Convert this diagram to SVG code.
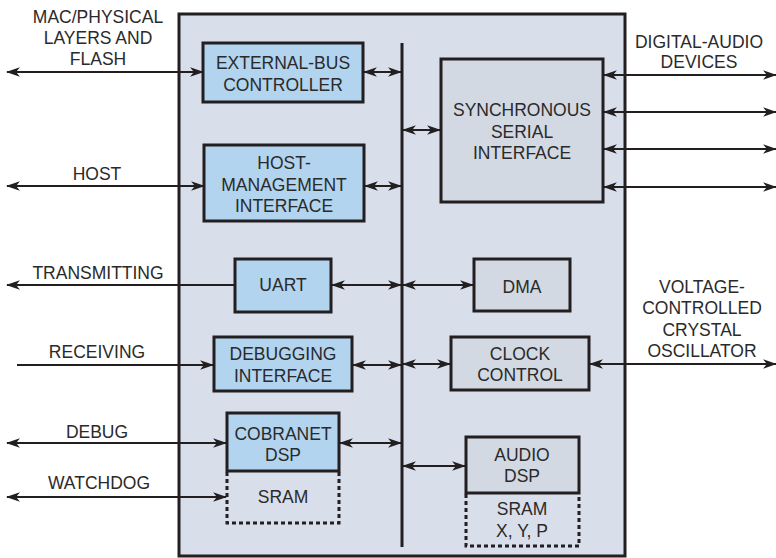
<svg xmlns="http://www.w3.org/2000/svg" width="776" height="558" viewBox="0 0 776 558">
  <defs>
    <style>
      .chip { fill: #d9dfea; stroke: #231f20; stroke-width: 3; }
      .blue { fill: #b2d4ef; stroke: #231f20; stroke-width: 3; }
      .gray { fill: #d2d9e3; stroke: #231f20; stroke-width: 3; }
      .dash { fill: none; stroke: #231f20; stroke-width: 3; stroke-dasharray: 4 3; }
      .bus { stroke: #231f20; stroke-width: 3; fill: none; }
      .conn { stroke: #231f20; stroke-width: 2; fill: none; }
      .bi { marker-start: url(#ah); marker-end: url(#ah); }
      .fwd { marker-end: url(#ah); }
      .back { marker-start: url(#ah); }
      text { font-family: "Liberation Sans", Arial, sans-serif; font-size: 17.5px; fill: #2a2a2a; text-anchor: middle; }
    </style>
    <marker id="ah" markerUnits="userSpaceOnUse" markerWidth="14" markerHeight="12" viewBox="0 0 13 10" refX="12" refY="5" orient="auto-start-reverse">
      <path d="M0,0.6 L13,5 L0,9.4 L3.5,5 Z" fill="#231f20"/>
    </marker>
  </defs>

  <g id="chip">
    <rect class="chip" x="179" y="14" width="446" height="542"/>
  </g>

  <g id="bus">
    <line class="bus" x1="402" y1="43" x2="402" y2="547"/>
  </g>

  <g id="external-bus-controller">
    <rect class="blue" x="203" y="43" width="160" height="59"/>
    <text x="283" y="69">EXTERNAL-BUS</text>
    <text x="283" y="91">CONTROLLER</text>
  </g>

  <g id="host-management-interface">
    <rect class="blue" x="204" y="145" width="160" height="76"/>
    <text x="284" y="169">HOST-</text>
    <text x="284" y="191">MANAGEMENT</text>
    <text x="284" y="212">INTERFACE</text>
  </g>

  <g id="uart">
    <rect class="blue" x="235" y="259" width="96" height="53"/>
    <text x="283" y="291">UART</text>
  </g>

  <g id="debugging-interface">
    <rect class="blue" x="214" y="337" width="138" height="54"/>
    <text x="283" y="360">DEBUGGING</text>
    <text x="283" y="382">INTERFACE</text>
  </g>

  <g id="cobranet-dsp">
    <rect class="blue" x="227" y="413" width="112" height="58"/>
    <text x="283" y="440">COBRANET</text>
    <text x="283" y="461">DSP</text>
  </g>

  <g id="sram-cobranet">
    <path class="dash" d="M227,472 V523 H339 V472"/>
    <text x="283" y="503">SRAM</text>
  </g>

  <g id="synchronous-serial-interface">
    <rect class="gray" x="441" y="59" width="162" height="143"/>
    <text x="522" y="116">SYNCHRONOUS</text>
    <text x="522" y="138">SERIAL</text>
    <text x="522" y="159">INTERFACE</text>
  </g>

  <g id="dma">
    <rect class="gray" x="474" y="259" width="96" height="52"/>
    <text x="522" y="293">DMA</text>
  </g>

  <g id="clock-control">
    <rect class="gray" x="451" y="337" width="138" height="53"/>
    <text x="520" y="360">CLOCK</text>
    <text x="520" y="381">CONTROL</text>
  </g>

  <g id="audio-dsp">
    <rect class="gray" x="466" y="437" width="113" height="56"/>
    <text x="522" y="461">AUDIO</text>
    <text x="522" y="482">DSP</text>
  </g>

  <g id="sram-audio">
    <path class="dash" d="M466,494 V546 H579 V494"/>
    <text x="522" y="515">SRAM</text>
    <text x="522" y="537">X, Y, P</text>
  </g>

  <g id="connectors">
    <line class="conn bi" x1="7" y1="72" x2="203" y2="72"/>
    <line class="conn bi" x1="364" y1="72" x2="401" y2="72"/>
    <line class="conn bi" x1="7" y1="186" x2="204" y2="186"/>
    <line class="conn bi" x1="365" y1="186" x2="401" y2="186"/>
    <line class="conn back" x1="7" y1="285" x2="235" y2="285"/>
    <line class="conn bi" x1="332" y1="285" x2="401" y2="285"/>
    <line class="conn fwd" x1="17" y1="365" x2="213" y2="365"/>
    <line class="conn bi" x1="353" y1="365" x2="401" y2="365"/>
    <line class="conn bi" x1="7" y1="443" x2="226" y2="443"/>
    <line class="conn bi" x1="340" y1="443" x2="401" y2="443"/>
    <line class="conn bi" x1="7" y1="497" x2="226" y2="497"/>
    <line class="conn bi" x1="403" y1="130" x2="440" y2="130"/>
    <line class="conn bi" x1="604" y1="75" x2="776" y2="75"/>
    <line class="conn bi" x1="604" y1="112" x2="776" y2="112"/>
    <line class="conn bi" x1="604" y1="149" x2="776" y2="149"/>
    <line class="conn bi" x1="604" y1="187" x2="776" y2="187"/>
    <line class="conn bi" x1="403" y1="285" x2="473" y2="285"/>
    <line class="conn bi" x1="403" y1="364" x2="450" y2="364"/>
    <line class="conn bi" x1="590" y1="364" x2="776" y2="364"/>
    <line class="conn bi" x1="403" y1="466" x2="465" y2="466"/>
  </g>

  <g id="labels">
    <text x="98" y="23">MAC/PHYSICAL</text>
    <text x="98" y="44">LAYERS AND</text>
    <text x="98" y="65">FLASH</text>
    <text x="97" y="180">HOST</text>
    <text x="98" y="279">TRANSMITTING</text>
    <text x="97" y="358">RECEIVING</text>
    <text x="97" y="438">DEBUG</text>
    <text x="99" y="489">WATCHDOG</text>
    <text x="699" y="48">DIGITAL-AUDIO</text>
    <text x="699" y="68">DEVICES</text>
    <text x="702" y="293">VOLTAGE-</text>
    <text x="702" y="314">CONTROLLED</text>
    <text x="702" y="336">CRYSTAL</text>
    <text x="702" y="357">OSCILLATOR</text>
  </g>
</svg>
